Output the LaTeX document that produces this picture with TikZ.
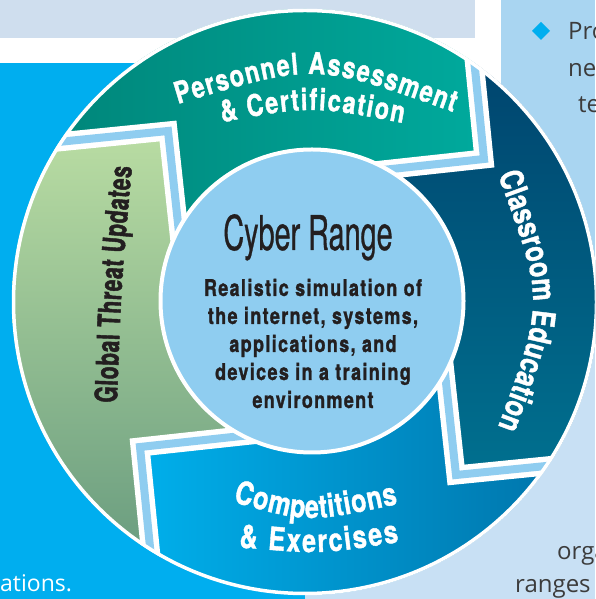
\documentclass[tikz,border=0pt]{standalone}
\usepackage{fontspec}
\setmainfont{TeX Gyre Heros}
\newfontfamily\condfont{TeX Gyre Heros}[FakeStretch=0.78,BoldFeatures={FakeBold=1.2}]
\newfontfamily\narrowfont{TeX Gyre Heros}[FakeStretch=0.68,BoldFeatures={FakeBold=1.4}]
\newfontfamily\titlefont{TeX Gyre Heros}[FakeStretch=0.6,FakeBold=0.6]
\newfontfamily\pagefont{Open Sans}
\usetikzlibrary{decorations.text}

\definecolor{inkdark}{HTML}{231F20}
\definecolor{pagegray}{HTML}{3C3C3C}
\definecolor{bandgray}{HTML}{CFDEEE}
\definecolor{pagecyan}{HTML}{00AEEF}
\definecolor{sidebar}{HTML}{A9D5F1}
\definecolor{sidebarpale}{HTML}{C8E0F4}
\definecolor{hubblue}{HTML}{8FCDF0}
\definecolor{tealL}{HTML}{00867A}
\definecolor{tealR}{HTML}{00AA9D}
\definecolor{navyT}{HTML}{00446E}
\definecolor{navyB}{HTML}{00708F}
\definecolor{blueL}{HTML}{00B0EC}
\definecolor{blueR}{HTML}{0074AA}
\definecolor{greenT}{HTML}{BADDA3}
\definecolor{greenB}{HTML}{699C7F}

\newcommand{\ringwhite}{\condfont\bfseries\fontsize{30}{32}\selectfont\color{white}}
\newcommand{\ringwhitebig}{\condfont\bfseries\fontsize{32}{34}\selectfont\color{white}}
\newcommand{\ringdark}{\narrowfont\bfseries\fontsize{31}{33}\selectfont\color{inkdark}}
\newcommand{\blurbfont}{\condfont\bfseries\fontsize{23}{28}\selectfont\addfontfeatures{LetterSpace=6}}
\newcommand{\pagetext}{\pagefont\fontsize{24}{28}\selectfont}

\begin{document}
\begin{tikzpicture}[x=1pt,y=1pt,
    gapwhite/.style={white,line width=19,line join=miter},
    gapblue/.style={hubblue,line width=8,line join=miter},
    pagelabel/.style={anchor=base west,inner sep=0,font=\pagetext,text=pagegray},
    blurbline/.style={anchor=base,inner sep=0,font=\blurbfont,text=inkdark}]
  \useasboundingbox (0,0) rectangle (595,599);
  \clip (0,0) rectangle (595,599);

  %page behind the ring
  \fill[white] (0,0) rectangle (595,599);
  \fill[bandgray] (0,561) rectangle (475,599);
  \fill[pagecyan] (0,0) rectangle (305,536);
  \fill[sidebar] (501,299) rectangle (595,599);
  \fill[sidebarpale] (305,0) rectangle (595,299);

  %cut-off page text
  \fill[pagecyan] (541,577) -- (550,568) -- (541,559) -- (532,568) -- cycle;
  \node[pagelabel] (pro) at (568,559) {Pro};
  \node[pagelabel] (new) at (568,522) {new};
  \node[pagelabel] (te) at (578,486) {te};
  \node[pagelabel] (orga) at (557,39) {orga};
  \node[pagelabel] (ranges) at (515,6) {ranges t};
  \node[pagelabel,text=white,font=\pagefont\fontsize{23}{26}\selectfont] (ations) at (0,7) {ations.};

  %centres
  \coordinate (rim) at (305,297);
  \coordinate (hub) at (312,296);

  %chevron joints: outer end, tip, inner end
  \coordinate (v1) at (484,440); \coordinate (o1) at (468,600); \coordinate (i1) at (364,427);
  \coordinate (v2) at (456,124); \coordinate (o2) at (616,140); \coordinate (i2) at (443,244);
  \coordinate (v3) at (140,152); \coordinate (o3) at (156,-8);  \coordinate (i3) at (260,165);
  \coordinate (v4) at (168,468); \coordinate (o4) at (8,452);   \coordinate (i4) at (181,348);

  \begin{scope}
    \clip (rim) circle (293);
    %top segment
    \begin{scope}
      \clip (o4) -- (v4) -- (i4) -- (hub) -- (i1) -- (v1) -- (o1) -- (312,900) -- cycle;
      \shade[left color=tealL,right color=tealR] (55,370) rectangle (485,599);
    \end{scope}
    %right segment
    \begin{scope}
      \clip (o1) -- (v1) -- (i1) -- (hub) -- (i2) -- (v2) -- (o2) -- (920,296) -- cycle;
      \shade[top color=navyT,bottom color=navyB] (380,125) rectangle (599,545);
    \end{scope}
    %bottom segment
    \begin{scope}
      \clip (o2) -- (v2) -- (i2) -- (hub) -- (i3) -- (v3) -- (o3) -- (312,-310) -- cycle;
      \shade[left color=blueL,right color=blueR] (135,0) rectangle (565,230);
    \end{scope}
    %left segment
    \begin{scope}
      \clip (o3) -- (v3) -- (i3) -- (hub) -- (i4) -- (v4) -- (o4) -- (-300,296) -- cycle;
      \shade[top color=greenT,bottom color=greenB] (10,40) rectangle (245,470);
    \end{scope}
    %gaps between segments
    \foreach \j in {1,...,4}{
      \draw[gapwhite] (o\j) -- (v\j) -- (i\j);
      \draw[gapblue] (o\j) -- (v\j) -- (i\j);
    }
  \end{scope}
  \draw[white,line width=3.5] (rim) circle (291.5);

  %centre disc
  \node[circle,draw=white,line width=4,fill=hubblue,minimum size=303,inner sep=0] (core) at (312,298) {};
  \node[anchor=base,inner sep=0,text=inkdark,font=\titlefont\fontsize{48}{50}\selectfont] (title) at (308,349) {Cyber Range};
  \foreach \line [count=\n] in {{Realistic simulation of},{the internet, systems,},{applications, and},{devices in a training},{environment}}
    \node[blurbline] (blurb\n) at (313,{303-28*(\n-1)}) {\line};

  %ring labels
  \path[decorate,decoration={text along path,text align=fit to path,
    text={|\ringwhite|Personnel Assessment}}]
    (178,495) .. controls (314.8,536.3) .. (453,487);
  \path[decorate,decoration={text along path,text align=fit to path,
    text={|\ringwhite|{\&} Certification}}]
    (222,477) .. controls (311.8,493.2) .. (403,476);
  \path[decorate,decoration={text along path,text align=fit to path,
    text={|\ringwhitebig|Classroom Education}}]
    (498,424) .. controls (544.7,298) .. (498,172);
  \path[decorate,decoration={text along path,text align=fit to path,
    text={|\ringwhitebig|Competitions}}]
    (233,97) .. controls (308.2,76) .. (398,95);
  \path[decorate,decoration={text along path,text align=fit to path,
    text={|\ringwhitebig|{\&} Exercises}}]
    (239,52) .. controls (320.3,44.5) .. (399,57);
  \path[decorate,decoration={text along path,text align=fit to path,
    text={|\ringdark|Global Threat Updates}}]
    (117,196) .. controls (121.2,314) .. (132,432);
\end{tikzpicture}
\end{document}
